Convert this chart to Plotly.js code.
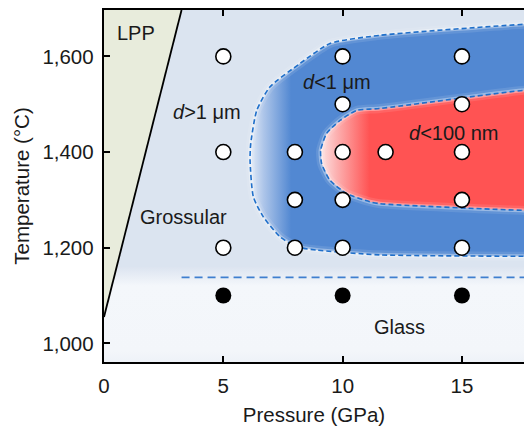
<!DOCTYPE html>
<html>
<head>
<meta charset="utf-8">
<script src="https://cdn.plot.ly/plotly-3.0.1.min.js"></script>
<style>html,body{margin:0;padding:0;background:#fff}#chart{width:524px;height:426px}</style>
</head>
<body>
<div id="chart"></div>
<script>
// Experimental points: hollow = crystallised, filled = glass
const hollowP = [5, 5, 5, 8, 8, 8, 10, 10, 10, 10, 10, 11.8, 15, 15, 15, 15, 15];
const hollowT = [1600, 1400, 1200, 1400, 1300, 1200, 1600, 1500, 1400, 1300, 1200, 1400, 1600, 1500, 1400, 1300, 1200];
const glassP = [5, 10, 15];
const glassT = [1100, 1100, 1100];

// Region boundaries
const outerP = [18.2, 17.6, 11.56, 9.47, 8.21, 6.95, 6.4, 6.15, 6.12, 6.26, 6.67, 7.37, 8.07, 8.91, 11.56, 17.6, 18.2];
const outerT = [1667, 1667, 1644, 1627, 1585, 1536, 1487, 1418, 1383, 1306, 1265, 1223, 1202, 1195, 1185, 1182, 1182];
const innerP = [18.2, 17.6, 11.56, 10.59, 9.89, 9.33, 9.08, 9.12, 9.47, 10.17, 11.14, 11.56, 17.6, 18.2];
const innerT = [1529, 1529, 1491, 1487, 1466, 1439, 1404, 1376, 1341, 1313, 1296, 1292, 1278, 1278];
const lppP = [0, 3.25, 0];
const lppT = [1055, 1697, 1697];
const glassLineP = [3.25, 17.6];
const glassLineT = [1138, 1138];
const glassZoneP = [0, 17.6, 17.6, 0];
const glassZoneT = [961, 961, 1160, 1160];

// Axis ticks
const xTicks = [0, 5, 10, 15];
const xTickText = ['0', '5', '10', '15'];
const yTicks = [1000, 1200, 1400, 1600];
const yTickText = ['1,000', '1,200', '1,400', '1,600'];

// Labels
const labelText = ['LPP', '<i>d</i>&gt;1 μm', 'Grossular', '<i>d</i>&lt;1 μm', '<i>d</i>&lt;100 nm', 'Glass'];
const labelP = [1.34, 4.32, 3.33, 9.78, 14.66, 12.4];
const labelT = [1648, 1483, 1264, 1546, 1439, 1034];

const FONT = 'Liberation Sans, Arial, Helvetica, sans-serif';
const DASHBLUE = '#1f6fca';

function boundary(xs, ys) {
  const common = {x: xs, y: ys, type: 'scatter', mode: 'lines', hoverinfo: 'skip', showlegend: false};
  return [
    Object.assign({}, common, {line: {color: 'rgba(255,255,255,0.10)', width: 9, shape: 'spline', smoothing: 0.6}}),
    Object.assign({}, common, {line: {color: 'rgba(255,255,255,0.35)', width: 4, shape: 'spline', smoothing: 0.6}}),
    Object.assign({}, common, {line: {color: DASHBLUE, width: 1.6, dash: '5px,3px', shape: 'spline', smoothing: 0.6}})
  ];
}

const traces = [
  {x: glassZoneP, y: glassZoneT, type: 'scatter', mode: 'none', fill: 'toself',
   fillgradient: {type: 'vertical', start: 961, stop: 1160,
     colorscale: [[0, '#eef2f8'], [0.12, '#f3f6fa'], [0.8, '#f4f7fb'], [1, '#dce4f0']]},
   hoverinfo: 'skip', showlegend: false},
  {x: outerP, y: outerT, type: 'scatter', mode: 'none', fill: 'toself',
   fillgradient: {type: 'horizontal', start: 6.12, stop: 17.6,
     colorscale: [[0, '#e4ecf7'], [0.05, '#adc5e9'], [0.15, '#5288d2'], [1, '#5288d2']]},
   hoverinfo: 'skip', showlegend: false},
  {x: innerP, y: innerT, type: 'scatter', mode: 'none', fill: 'toself',
   fillgradient: {type: 'horizontal', start: 9.08, stop: 17.6,
     colorscale: [[0, '#fde3e3'], [0.08, '#fcb0b0'], [0.24, '#ff5353'], [1, '#ff5353']]},
   hoverinfo: 'skip', showlegend: false},
  ...boundary(outerP, outerT),
  ...boundary(innerP, innerT),
  {x: glassLineP, y: glassLineT, type: 'scatter', mode: 'lines',
   line: {color: '#3f7fcf', width: 1.6, dash: '8px,5px'}, hoverinfo: 'skip', showlegend: false},
  {x: lppP, y: lppT, type: 'scatter', mode: 'none', fill: 'toself', fillcolor: '#e8ecdc',
   hoverinfo: 'skip', showlegend: false},
  {x: lppP.slice(0, 2), y: lppT.slice(0, 2), type: 'scatter', mode: 'lines',
   line: {color: '#000', width: 1.8}, hoverinfo: 'skip', showlegend: false},
  {x: hollowP, y: hollowT, type: 'scatter', mode: 'markers',
   marker: {size: 15, color: '#fff', line: {color: '#000', width: 1.6}}, showlegend: false},
  {x: glassP, y: glassT, type: 'scatter', mode: 'markers',
   marker: {size: 16, color: '#000', line: {color: '#000', width: 0}}, showlegend: false}
];

const annotations = labelText.map((t, i) => ({
  x: labelP[i], y: labelT[i], xref: 'x', yref: 'y', text: t, showarrow: false,
  font: {family: FONT, size: 20, color: '#1a1a1a'}, xanchor: 'center', yanchor: 'middle'
}));

const layout = {
  width: 524, height: 426,
  margin: {l: 104, r: 0, t: 10, b: 64},
  paper_bgcolor: '#fff', plot_bgcolor: '#dbe4f0',
  font: {family: FONT, size: 20, color: '#1a1a1a'},
  xaxis: {range: [0, 17.6], tickvals: xTicks, ticktext: xTickText, ticks: 'inside', ticklen: 6,
    tickwidth: 2.2, tickcolor: '#000', showline: true, linewidth: 2.2, linecolor: '#000', mirror: 'ticks',
    showgrid: false, zeroline: false, ticklabelstandoff: 4,
    tickfont: {family: FONT, size: 20.5, color: '#1a1a1a'},
    title: {text: 'Pressure (GPa)', font: {family: FONT, size: 20.5, color: '#1a1a1a'}, standoff: 16}},
  yaxis: {range: [961, 1697], tickvals: yTicks, ticktext: yTickText, ticks: 'inside', ticklen: 6,
    tickwidth: 2.2, tickcolor: '#000', showline: true, linewidth: 2.2, linecolor: '#000', mirror: false,
    showgrid: false, zeroline: false, ticklabelstandoff: 4,
    tickfont: {family: FONT, size: 20.5, color: '#1a1a1a'},
    title: {text: 'Temperature (°C)', font: {family: FONT, size: 20.5, color: '#1a1a1a'}, standoff: 7}},
  annotations: annotations
};

Plotly.newPlot('chart', traces, layout, {staticPlot: true, displayModeBar: false});
</script>
</body>
</html>
